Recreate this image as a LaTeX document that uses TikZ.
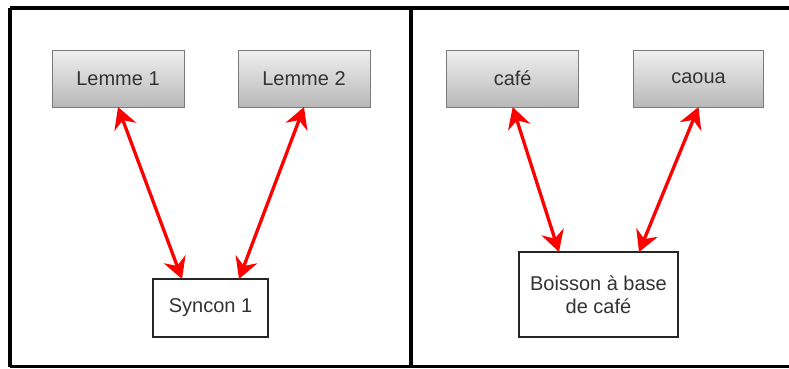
\documentclass[tikz,border=0pt]{standalone}
\usepackage{fontspec}
\setmainfont{Liberation Sans}
\usetikzlibrary{arrows.meta}
\definecolor{boxtop}{HTML}{F0F0F0}
\definecolor{boxbot}{HTML}{B8B8B8}
\definecolor{boxline}{HTML}{7A7A7A}
\definecolor{txt}{HTML}{333333}
\definecolor{arrred}{HTML}{FF0000}
\tikzset{
  graybox/.style={draw=boxline, line width=1pt, top color=boxtop, bottom color=boxbot,
    minimum width=132pt, minimum height=57pt, inner sep=0pt, outer sep=0pt,
    text=txt, font=\fontsize{20}{24}\selectfont},
  whitebox/.style={draw=black!85, line width=1.3pt, fill=white,
    inner sep=0pt, outer sep=0pt, text=txt, align=center,
    font=\fontsize{20}{23.3}\selectfont},
  frame/.style={draw=black, line width=3.5pt},
  redarrow/.style={draw=arrred, line width=3.3pt,
    {Stealth[length=21pt,width=23pt,inset=7pt]}-{Stealth[length=21pt,width=23pt,inset=7pt]}}
}
\begin{document}
\begin{tikzpicture}[x=1pt,y=-1pt]
\useasboundingbox (0,0) rectangle (789,368);
% frame
\draw[frame] (10,8) -- (795,8);
\draw[frame] (10,366.5) -- (795,366.5);
\draw[frame] (10,8) -- (10,366.5);
\draw[frame] (411,8) -- (411,366.5);
% left panel
\node[graybox] (l1) at (118,78.5) {Lemme 1};
\node[graybox] (l2) at (304,78.5) {Lemme 2};
\node[whitebox, minimum width=115pt, minimum height=58pt] (s1) at (210.5,308) {Syncon 1};
\draw[redarrow] (l1.south) -- ([xshift=-28.5pt]s1.north);
\draw[redarrow] (l2.south) -- ([xshift=28.5pt]s1.north);
% right panel
\node[graybox] (c1) at (512.7,78.5) {café};
\node[graybox, minimum width=130pt] (c2) at (698.5,78.5) {caoua};
\node[whitebox, minimum width=159pt, minimum height=85pt] (b1) at (598.5,294.5) {Boisson à base\\de café};
\draw[redarrow] (c1.south) -- ([xshift=-39.5pt]b1.north);
\draw[redarrow] (c2.south) -- ([xshift=40.5pt]b1.north);
\end{tikzpicture}
\end{document}
